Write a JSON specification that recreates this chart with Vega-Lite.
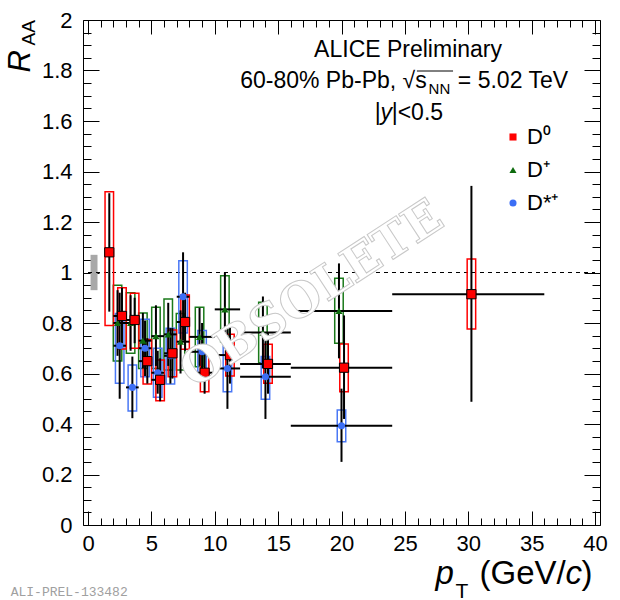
{
  "$schema": "https://vega.github.io/schema/vega-lite/v6.json",
  "width": 517,
  "height": 505,
  "autosize": "none",
  "padding": {"left": 83, "top": 20, "right": 20, "bottom": 75},
  "background": "white",
  "config": {
    "view": {"stroke": "black", "strokeWidth": 1},
    "font": "Liberation Sans",
    "axis": {
      "grid": false, "domain": false,
      "labelFont": "Liberation Sans", "labelFontSize": 22, "labelColor": "black",
      "labelFlush": false, "labelOverlap": false,
      "tickColor": "black", "tickWidth": 1,
      "titleFont": "Liberation Sans", "titleFontWeight": "normal", "titleColor": "black",
      "titleAlign": "left", "titleBaseline": "alphabetic"
    }
  },
  "datasets": {
    "norm": [{"xlo": 0.2, "xhi": 0.75, "lo": 0.93, "hi": 1.07}],
    "dmeson": [
      {"sp": "D+", "x": 2.33, "xlo": 2, "xhi": 3, "r": 0.80, "slo": 0.67, "shi": 0.93, "ylo": 0.65, "yhi": 0.95},
      {"sp": "D+", "x": 3.36, "xlo": 3, "xhi": 4, "r": 0.80, "slo": 0.69, "shi": 0.91, "ylo": 0.68, "yhi": 0.92},
      {"sp": "D+", "x": 4.33, "xlo": 4, "xhi": 5, "r": 0.73, "slo": 0.62, "shi": 0.84, "ylo": 0.62, "yhi": 0.84},
      {"sp": "D+", "x": 5.36, "xlo": 5, "xhi": 6, "r": 0.748, "slo": 0.63, "shi": 0.87, "ylo": 0.62, "yhi": 0.862},
      {"sp": "D+", "x": 6.33, "xlo": 6, "xhi": 7, "r": 0.755, "slo": 0.63, "shi": 0.88, "ylo": 0.614, "yhi": 0.895},
      {"sp": "D+", "x": 7.3, "xlo": 7, "xhi": 8, "r": 0.726, "slo": 0.60, "shi": 0.85, "ylo": 0.614, "yhi": 0.838},
      {"sp": "D+", "x": 8.8, "xlo": 8, "xhi": 10, "r": 0.745, "slo": 0.63, "shi": 0.86, "ylo": 0.627, "yhi": 0.862},
      {"sp": "D+", "x": 10.8, "xlo": 10, "xhi": 12, "r": 0.854, "slo": 0.70, "shi": 1.0, "ylo": 0.726, "yhi": 0.987},
      {"sp": "D+", "x": 13.8, "xlo": 12, "xhi": 16, "r": 0.762, "slo": 0.62, "shi": 0.905, "ylo": 0.643, "yhi": 0.882},
      {"sp": "D+", "x": 19.8, "xlo": 16, "xhi": 24, "r": 0.848, "slo": 0.66, "shi": 1.036, "ylo": 0.72, "yhi": 0.977},
      {"sp": "D*+", "x": 2.5, "xlo": 2, "xhi": 3, "r": 0.71, "slo": 0.50, "shi": 0.92, "ylo": 0.561, "yhi": 0.838},
      {"sp": "D*+", "x": 3.5, "xlo": 3, "xhi": 4, "r": 0.545, "slo": 0.423, "shi": 0.667, "ylo": 0.451, "yhi": 0.634},
      {"sp": "D*+", "x": 4.5, "xlo": 4, "xhi": 5, "r": 0.70, "slo": 0.59, "shi": 0.81, "ylo": 0.587, "yhi": 0.815},
      {"sp": "D*+", "x": 5.5, "xlo": 5, "xhi": 6, "r": 0.603, "slo": 0.52, "shi": 0.69, "ylo": 0.506, "yhi": 0.70},
      {"sp": "D*+", "x": 6.5, "xlo": 6, "xhi": 7, "r": 0.67, "slo": 0.56, "shi": 0.78, "ylo": 0.558, "yhi": 0.779},
      {"sp": "D*+", "x": 7.5, "xlo": 7, "xhi": 8, "r": 0.904, "slo": 0.73, "shi": 1.08, "ylo": 0.76, "yhi": 1.047},
      {"sp": "D*+", "x": 9.0, "xlo": 8, "xhi": 10, "r": 0.686, "slo": 0.57, "shi": 0.80, "ylo": 0.60, "yhi": 0.77},
      {"sp": "D*+", "x": 11.0, "xlo": 10, "xhi": 12, "r": 0.62, "slo": 0.46, "shi": 0.78, "ylo": 0.528, "yhi": 0.709},
      {"sp": "D*+", "x": 14.0, "xlo": 12, "xhi": 16, "r": 0.587, "slo": 0.42, "shi": 0.75, "ylo": 0.498, "yhi": 0.667},
      {"sp": "D*+", "x": 20.0, "xlo": 16, "xhi": 24, "r": 0.393, "slo": 0.25, "shi": 0.54, "ylo": 0.33, "yhi": 0.455},
      {"sp": "D0", "x": 1.68, "xlo": 1.4, "xhi": 2.05, "r": 1.08, "slo": 0.845, "shi": 1.314, "ylo": 0.79, "yhi": 1.32},
      {"sp": "D0", "x": 2.68, "xlo": 2, "xhi": 3, "r": 0.828, "slo": 0.72, "shi": 0.94, "ylo": 0.697, "yhi": 0.94},
      {"sp": "D0", "x": 3.68, "xlo": 3, "xhi": 4, "r": 0.812, "slo": 0.72, "shi": 0.90, "ylo": 0.70, "yhi": 0.918},
      {"sp": "D0", "x": 4.68, "xlo": 4, "xhi": 5, "r": 0.649, "slo": 0.56, "shi": 0.74, "ylo": 0.558, "yhi": 0.735},
      {"sp": "D0", "x": 5.69, "xlo": 5, "xhi": 6, "r": 0.575, "slo": 0.49, "shi": 0.66, "ylo": 0.492, "yhi": 0.653},
      {"sp": "D0", "x": 6.66, "xlo": 6, "xhi": 7, "r": 0.68, "slo": 0.58, "shi": 0.78, "ylo": 0.587, "yhi": 0.772},
      {"sp": "D0", "x": 7.66, "xlo": 7, "xhi": 8, "r": 0.804, "slo": 0.69, "shi": 0.92, "ylo": 0.696, "yhi": 0.911},
      {"sp": "D0", "x": 9.2, "xlo": 8, "xhi": 10, "r": 0.603, "slo": 0.52, "shi": 0.69, "ylo": 0.528, "yhi": 0.68},
      {"sp": "D0", "x": 11.2, "xlo": 10, "xhi": 12, "r": 0.673, "slo": 0.56, "shi": 0.79, "ylo": 0.59, "yhi": 0.755},
      {"sp": "D0", "x": 14.2, "xlo": 12, "xhi": 16, "r": 0.638, "slo": 0.52, "shi": 0.76, "ylo": 0.561, "yhi": 0.716},
      {"sp": "D0", "x": 20.2, "xlo": 16, "xhi": 24, "r": 0.623, "slo": 0.42, "shi": 0.83, "ylo": 0.528, "yhi": 0.717},
      {"sp": "D0", "x": 30.25, "xlo": 24, "xhi": 36, "r": 0.914, "slo": 0.488, "shi": 1.343, "ylo": 0.776, "yhi": 1.053}
    ]
  },
  "layer": [
    {
      "data": {"name": "norm"},
      "mark": {"type": "rect", "fill": "#a8a8a8"},
      "encoding": {
        "x": {"field": "xlo", "type": "quantitative", "scale": {"domain": [0, 40], "nice": false, "zero": false},
          "axis": {"orient": "bottom", "offset": -14, "tickSize": 14, "labelPadding": 8, "values": [0, 5, 10, 15, 20, 25, 30, 35, 40],
            "title": "p", "titleFontStyle": "italic", "titleFontSize": 33, "titleX": 352, "titleY": 72}},
        "x2": {"field": "xhi"},
        "y": {"field": "lo", "type": "quantitative", "scale": {"domain": [0, 2], "nice": false, "zero": false},
          "axis": {"orient": "left", "offset": -16, "tickSize": 16, "labelPadding": 11, "values": [0, 0.2, 0.4, 0.6, 0.8, 1, 1.2, 1.4, 1.6, 1.8, 2], "format": ".1~f",
            "title": "R", "titleFontStyle": "italic", "titleFontSize": 31, "titleAngle": 270, "titleX": -70, "titleY": 52}},
        "y2": {"field": "hi"}
      }
    },
    {
      "data": {"values": [{}]},
      "mark": {"type": "rule", "color": "black", "strokeWidth": 1, "strokeDash": [4, 4]},
      "encoding": {
        "x": {"datum": 0, "type": "quantitative",
          "axis": {"orient": "bottom", "offset": -7, "tickSize": 7, "labels": false,
            "values": [1, 2, 3, 4, 6, 7, 8, 9, 11, 12, 13, 14, 16, 17, 18, 19, 21, 22, 23, 24, 26, 27, 28, 29, 31, 32, 33, 34, 36, 37, 38, 39],
            "title": "T", "titleFontSize": 21, "titleX": 372, "titleY": 79}},
        "x2": {"datum": 40},
        "y": {"datum": 1, "type": "quantitative",
          "axis": {"orient": "left", "offset": -8, "tickSize": 8, "labels": false,
            "values": [0.05, 0.1, 0.15, 0.25, 0.3, 0.35, 0.45, 0.5, 0.55, 0.65, 0.7, 0.75, 0.85, 0.9, 0.95, 1.05, 1.1, 1.15, 1.25, 1.3, 1.35, 1.45, 1.5, 1.55, 1.65, 1.7, 1.75, 1.85, 1.9, 1.95],
            "title": "AA", "titleFontSize": 19, "titleAngle": 270, "titleX": -57, "titleY": 25}}
      }
    },
    {
      "data": {"name": "dmeson"},
      "mark": {"type": "bar", "orient": "vertical", "width": 8.5, "fillOpacity": 0, "strokeWidth": 1.5},
      "encoding": {
        "x": {"field": "x", "type": "quantitative",
          "axis": {"orient": "top", "offset": -14, "tickSize": 14, "labels": false, "title": null, "values": [0, 5, 10, 15, 20, 25, 30, 35, 40]}},
        "y": {"field": "ylo", "type": "quantitative",
          "axis": {"orient": "right", "offset": -16, "tickSize": 16, "labels": false, "title": null, "values": [0, 0.2, 0.4, 0.6, 0.8, 1, 1.2, 1.4, 1.6, 1.8, 2]}},
        "y2": {"field": "yhi"},
        "stroke": {"field": "sp", "type": "nominal", "legend": null,
          "scale": {"domain": ["D+", "D*+", "D0"], "range": ["#1a7a1a", "#4a78f5", "#ff0000"]}}
      }
    },
    {
      "data": {"name": "dmeson"},
      "mark": {"type": "rule", "color": "black", "strokeWidth": 2},
      "encoding": {
        "x": {"field": "x", "type": "quantitative",
          "axis": {"orient": "top", "offset": -7, "tickSize": 7, "labels": false, "title": null,
            "values": [1, 2, 3, 4, 6, 7, 8, 9, 11, 12, 13, 14, 16, 17, 18, 19, 21, 22, 23, 24, 26, 27, 28, 29, 31, 32, 33, 34, 36, 37, 38, 39]}},
        "y": {"field": "slo", "type": "quantitative",
          "axis": {"orient": "right", "offset": -8, "tickSize": 8, "labels": false, "title": null,
            "values": [0.05, 0.1, 0.15, 0.25, 0.3, 0.35, 0.45, 0.5, 0.55, 0.65, 0.7, 0.75, 0.85, 0.9, 0.95, 1.05, 1.1, 1.15, 1.25, 1.3, 1.35, 1.45, 1.5, 1.55, 1.65, 1.7, 1.75, 1.85, 1.9, 1.95]}},
        "y2": {"field": "shi"}
      }
    },
    {
      "data": {"name": "dmeson"},
      "mark": {"type": "rule", "color": "black", "strokeWidth": 2},
      "encoding": {
        "x": {"field": "xlo", "type": "quantitative",
          "axis": {"orient": "bottom", "ticks": false, "labels": false, "title": "(GeV/", "titleFontSize": 33, "titleX": 396, "titleY": 58}},
        "x2": {"field": "xhi"},
        "y": {"field": "r", "type": "quantitative", "axis": null}
      }
    },
    {
      "data": {"name": "dmeson"},
      "mark": {"type": "point", "filled": true, "opacity": 1, "stroke": "black"},
      "encoding": {
        "x": {"field": "x", "type": "quantitative",
          "axis": {"orient": "bottom", "ticks": false, "labels": false, "title": "c", "titleFontStyle": "italic", "titleFontSize": 33, "titleX": 482, "titleY": 58}},
        "y": {"field": "r", "type": "quantitative", "axis": null},
        "color": {"field": "sp", "type": "nominal",
          "scale": {"domain": ["D0", "D+", "D*+"], "range": ["#ff0000", "#0d6b0d", "#3b6ef5"]},
          "legend": {"title": null, "orient": "none", "legendX": 419, "legendY": 106,
            "labelFont": "Liberation Sans", "labelFontSize": 22, "labelColor": "black", "labelOffset": 3,
            "symbolSize": 50, "symbolStrokeWidth": 0, "rowPadding": 11,
            "labelExpr": "datum.label == 'D0' ? 'D⁰' : datum.label == 'D+' ? 'D⁺' : 'D*⁺'"}},
        "shape": {"field": "sp", "type": "nominal",
          "scale": {"domain": ["D0", "D+", "D*+"], "range": ["square", "triangle-up", "circle"]},
          "legend": {"title": null, "orient": "none", "legendX": 419, "legendY": 106,
            "labelFont": "Liberation Sans", "labelFontSize": 22, "labelColor": "black", "labelOffset": 3,
            "symbolSize": 50, "symbolStrokeWidth": 0, "rowPadding": 11,
            "labelExpr": "datum.label == 'D0' ? 'D⁰' : datum.label == 'D+' ? 'D⁺' : 'D*⁺'"}},
        "size": {"condition": {"test": "datum.sp == 'D0'", "value": 85}, "value": 50},
        "strokeWidth": {"condition": {"test": "datum.sp == 'D0'", "value": 1}, "value": 0}
      }
    },
    {
      "data": {"values": [{}]},
      "mark": {"type": "text", "text": "OBSOLETE", "angle": -33, "font": "DejaVu Serif", "fontWeight": "bold", "fontSize": 48,
        "fill": "white", "stroke": "#c8c8c8", "strokeWidth": 1, "align": "center", "baseline": "middle"},
      "encoding": {
        "x": {"datum": 17.7, "type": "quantitative",
          "axis": {"orient": "bottom", "ticks": false, "labels": false, "title": ")", "titleFontSize": 33, "titleX": 498, "titleY": 58}},
        "y": {"datum": 0.91, "type": "quantitative", "axis": null}
      }
    },
    {
      "data": {"values": [{}]},
      "mark": {"type": "text", "text": "ALICE Preliminary", "fontSize": 23, "align": "center", "baseline": "alphabetic"},
      "encoding": {
        "x": {"datum": 25.25, "type": "quantitative", "axis": null},
        "y": {"datum": 1.855, "type": "quantitative", "axis": null}
      }
    },
    {
      "data": {"values": [{}]},
      "mark": {"type": "text", "text": "60-80% Pb-Pb, √s", "fontSize": 23, "align": "right", "baseline": "alphabetic"},
      "encoding": {
        "x": {"datum": 26.72, "type": "quantitative", "axis": null},
        "y": {"datum": 1.731, "type": "quantitative", "axis": null}
      }
    },
    {
      "data": {"values": [{}]},
      "mark": {"type": "text", "text": "NN", "fontSize": 15, "align": "left", "baseline": "alphabetic"},
      "encoding": {
        "x": {"datum": 26.87, "type": "quantitative", "axis": null},
        "y": {"datum": 1.707, "type": "quantitative", "axis": null}
      }
    },
    {
      "data": {"values": [{}]},
      "mark": {"type": "text", "text": "= 5.02 TeV", "fontSize": 23, "align": "left", "baseline": "alphabetic"},
      "encoding": {
        "x": {"datum": 29.18, "type": "quantitative", "axis": null},
        "y": {"datum": 1.731, "type": "quantitative", "axis": null}
      }
    },
    {
      "data": {"values": [{}]},
      "mark": {"type": "rule", "color": "black", "strokeWidth": 1},
      "encoding": {
        "x": {"datum": 25.95, "type": "quantitative", "axis": null},
        "x2": {"datum": 28.8},
        "y": {"datum": 1.798, "type": "quantitative", "axis": null}
      }
    },
    {
      "data": {"values": [{}]},
      "mark": {"type": "text", "text": "|", "fontSize": 23, "align": "left", "baseline": "alphabetic"},
      "encoding": {
        "x": {"datum": 22.62, "type": "quantitative", "axis": null},
        "y": {"datum": 1.604, "type": "quantitative", "axis": null}
      }
    },
    {
      "data": {"values": [{}]},
      "mark": {"type": "text", "text": "y", "fontSize": 23, "fontStyle": "italic", "align": "left", "baseline": "alphabetic"},
      "encoding": {
        "x": {"datum": 23.08, "type": "quantitative", "axis": null},
        "y": {"datum": 1.604, "type": "quantitative", "axis": null}
      }
    },
    {
      "data": {"values": [{}]},
      "mark": {"type": "text", "text": "|<0.5", "fontSize": 23, "align": "left", "baseline": "alphabetic"},
      "encoding": {
        "x": {"datum": 23.96, "type": "quantitative", "axis": null},
        "y": {"datum": 1.604, "type": "quantitative", "axis": null}
      }
    },
    {
      "data": {"values": [{}]},
      "mark": {"type": "text", "text": "ALI-PREL-133482", "font": "Liberation Mono", "fontSize": 13, "color": "#a0a0a0", "align": "left", "baseline": "alphabetic"},
      "encoding": {
        "x": {"datum": -6.1, "type": "quantitative", "axis": null},
        "y": {"datum": -0.28, "type": "quantitative", "axis": null}
      }
    }
  ],
  "resolve": {"axis": {"x": "independent", "y": "independent"}}
}
